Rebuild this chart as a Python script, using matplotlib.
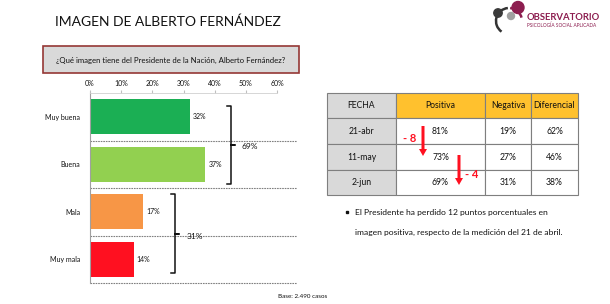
import matplotlib
matplotlib.use('Agg')
from matplotlib import pyplot as plt
from matplotlib.patches import Rectangle, Circle, Arc

plt.rcParams['font.family'] = ['Lato', 'DejaVu Sans']

# data
categorias = ['Muy buena', 'Buena', 'Mala', 'Muy mala']
valores = [32, 37, 17, 14]
colores = ['#1BAF54', '#92D050', '#F79646', '#FF1020']
grupos = [(0, 1, 69), (2, 3, 31)]          # first cat, last cat, total %

fechas = ['21-abr', '11-may', '2-jun']
positiva = [81, 73, 69]
negativa = [19, 27, 31]
diferencial = [62, 46, 38]
columnas = ['FECHA', 'Positiva', 'Negativa', 'Diferencial']

W, H = 610, 304
fig = plt.figure(figsize=(W / 100, H / 100), dpi=100)

# overlay in pixel coordinates for the slide elements
ov = fig.add_axes([0, 0, 1, 1])
ov.set_xlim(0, W)
ov.set_ylim(H, 0)
ov.axis('off')

ov.text(55, 26, 'IMAGEN DE ALBERTO FERNÁNDEZ', fontsize=10, color='#111111',
        ha='left', va='baseline')

ov.add_patch(Rectangle((43, 46), 256, 27, facecolor='#D9D9D9', edgecolor='#953735', lw=1.2))
ov.text(171, 60, '¿Qué imagen tiene del Presidente de la Nación, Alberto Fernández?',
        fontsize=5.6, ha='center', va='center', color='#111111')

# logo
ov.add_patch(Arc((509, 21), 26, 26, theta1=125, theta2=265, color='#333333', lw=1.8))
ov.add_patch(Arc((509, 21), 26, 26, theta1=275, theta2=345, color='#8C1D4F', lw=1.8))
ov.add_patch(Circle((498, 13), 4.2, color='#3A3A3A'))
ov.add_patch(Circle((511, 16), 3.5, color='#A0A0A0'))
ov.add_patch(Circle((518, 7.5), 6, color='#8C1D4F'))
ov.text(527, 17, 'OBSERVATORIO', fontsize=6.8, fontweight='bold', color='#8C1D4F',
        ha='left', va='center')
ov.text(527, 25, 'PSICOLOGÍA SOCIAL APLICADA', fontsize=3.4, color='#8C1D4F',
        ha='left', va='center')

# table
xs = [327, 396, 485, 531, 578]
ys = [93, 118, 144, 170, 195]
filas = [[f, f'{p}%', f'{n}%', f'{d}%'] for f, p, n, d in zip(fechas, positiva, negativa, diferencial)]
for r in range(4):
    for c in range(4):
        if c == 0:
            fc = '#D9D9D9'
        elif r == 0:
            fc = '#FFC12E'
        else:
            fc = 'white'
        ov.add_patch(Rectangle((xs[c], ys[r]), xs[c + 1] - xs[c], ys[r + 1] - ys[r],
                               facecolor=fc, edgecolor='#7F7F7F', lw=0.8))
        txt = columnas[c] if r == 0 else filas[r - 1][c]
        ov.text((xs[c] + xs[c + 1]) / 2, (ys[r] + ys[r + 1]) / 2, txt,
                fontsize=6.2, ha='center', va='center', color='#111111')

# drops in positive image
caidas = [positiva[1] - positiva[0], positiva[2] - positiva[1]]
flechas = [(423, 126, 156, 410, 138), (459, 155, 185, 472, 175)]
for d, (x, y0, y1, tx, ty) in zip(caidas, flechas):
    ov.arrow(x, y0, 0, y1 - y0, width=3, head_width=8, head_length=7,
             length_includes_head=True, color='#FF1020', lw=0)
    ov.text(tx, ty, f'- {abs(d)}', fontsize=8, fontweight='bold', color='#FF1020',
            ha='center', va='center')

ov.plot([347], [212], marker='s', ms=2, color='#111111')
ov.text(355, 212, 'El Presidente ha perdido 12 puntos porcentuales en',
        fontsize=6.1, ha='left', va='center', color='#111111')
ov.text(355, 232, 'imagen positiva, respecto de la medición del 21 de abril.',
        fontsize=6.1, ha='left', va='center', color='#111111')

ov.text(278, 296, 'Base: 2.490 casos', fontsize=4.5, ha='left', va='center', color='#111111')

# bar chart
ax = fig.add_axes([90 / W, 1 - 283 / H, 187 / W, 190 / H])
ax.patch.set_alpha(0)
pos = range(len(categorias))
ax.barh(pos, valores, height=0.74, color=colores)
ax.set_xlim(0, 60)
ax.set_ylim(len(categorias) - 0.5, -0.5)
ax.xaxis.tick_top()
ax.set_xticks(range(0, 61, 10))
ax.set_xticklabels([f'{t}%' for t in range(0, 61, 10)])
ax.tick_params(axis='x', labelsize=5, length=2, color='#BFBFBF', pad=2, labelcolor='#111111')
ax.set_yticks(list(pos))
ax.set_yticklabels(categorias)
ax.tick_params(axis='y', labelsize=5, length=0, pad=7, labelcolor='#111111')
for s in ['right', 'bottom']:
    ax.spines[s].set_visible(False)
ax.spines['top'].set_color('#D0D0D0')
ax.spines['left'].set_color('#A0A0A0')
ax.spines['top'].set_linewidth(0.6)
ax.spines['left'].set_linewidth(0.8)

for i in range(len(categorias)):
    ax.axhline(i + 0.5, xmin=0, xmax=1.107, color='#808080', lw=0.8,
               ls=(0, (1.5, 0.8)), clip_on=False)

for i, v in enumerate(valores):
    ax.text(v + 1, i, f'{v}%', fontsize=5, va='center', ha='left', color='#111111')

brackets = [(45.2, -0.22, 1.41, 48.6, 0.63), (27.3, 1.63, 3.29, 31.0, 2.52)]
for (a, b, tot), (bx, y0, y1, lx, ly) in zip(grupos, brackets):
    ym = (y0 + y1) / 2
    ax.plot([bx - 1.2, bx, bx, bx + 1.2, bx, bx, bx - 1.2],
            [y0, y0, ym, ym, ym, y1, y1], color='#111111', lw=1.1, clip_on=False)
    ax.text(lx, ly, f'{tot}%', fontsize=6, va='center', ha='left', color='#111111')

plt.savefig('out.png', dpi=100)
